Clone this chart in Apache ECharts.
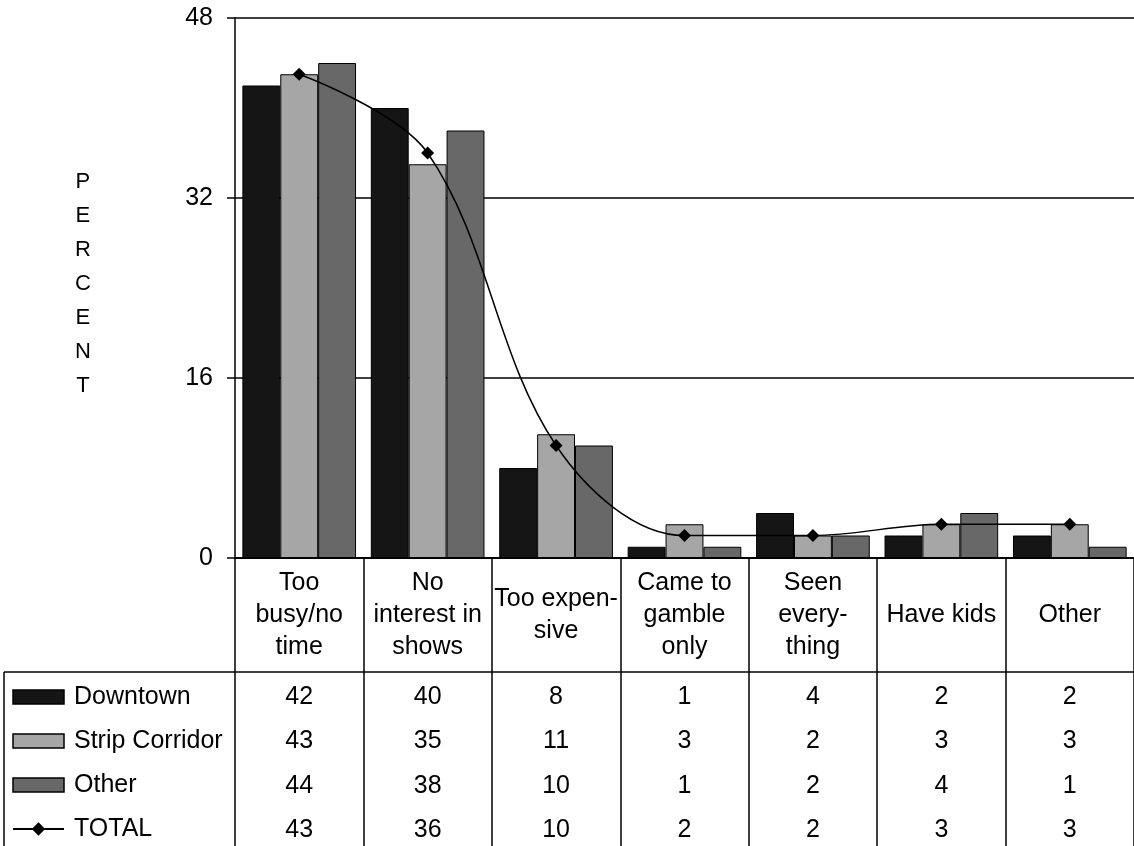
<!DOCTYPE html>
<html>
<head>
<meta charset="utf-8">
<script src="https://cdn.jsdelivr.net/npm/echarts@6/dist/echarts.min.js"></script>
<style>
  html, body { margin: 0; padding: 0; background: #fff; }
  #chart { width: 1134px; height: 846px; }
</style>
</head>
<body>
<div id="chart"></div>
<script>
// Reasons for not attending shows, by visitor area (percent)
const categories = ['Too\nbusy/no\ntime', 'No\ninterest in\nshows', 'Too expen-\nsive', 'Came to\ngamble\nonly', 'Seen\nevery-\nthing', 'Have kids', 'Other'];
const seriesNames = ['Downtown', 'Strip Corridor', 'Other', 'TOTAL'];
const downtown = [42, 40, 8, 1, 4, 2, 2];
const strip = [43, 35, 11, 3, 2, 3, 3];
const other = [44, 38, 10, 1, 2, 4, 1];
const total = [43, 36, 10, 2, 2, 3, 3];
const yMin = 0, yMax = 48, yStep = 16;
const axisTitle = 'PERCENT';

const FONT = '"Liberation Sans", Arial, sans-serif';
const FS = 25;
const barColors = ['#151515', '#a6a6a6', '#686868'];

// Data table rows under the plot, each drawn as an extra category axis
const tableRows = [downtown, strip, other, total];
const rowMargins = [139, 183, 228, 272];
const tableAxes = tableRows.map((vals, r) => ({
  type: 'category',
  gridIndex: 0,
  position: 'bottom',
  data: categories,
  axisLine: { show: false },
  axisTick: { show: false },
  splitLine: { show: false },
  axisLabel: {
    interval: 0,
    margin: rowMargins[r],
    verticalAlign: 'middle',
    color: '#000',
    fontFamily: FONT,
    fontSize: FS,
    formatter: (v, i) => String(vals[i])
  }
}));

const chart = echarts.init(document.getElementById('chart'), null, { renderer: 'canvas' });

const barSeries = [downtown, strip, other].map((vals, k) => ({
  name: seriesNames[k],
  type: 'bar',
  xAxisIndex: 0,
  yAxisIndex: 0,
  data: vals,
  barGap: '0%',
  barCategoryGap: '11.5%',
  itemStyle: { color: barColors[k], borderColor: '#000', borderWidth: 1 },
  emphasis: { disabled: true },
  z: 2
}));

chart.setOption({
  animation: false,
  backgroundColor: '#fff',
  textStyle: { fontFamily: FONT },
  grid: { left: 235, right: -9, top: 18, bottom: 288, containLabel: false },
  legend: {
    data: seriesNames.map((n, k) => (k < 3 ? { name: n, icon: 'rect' } : { name: n })),
    orient: 'vertical',
    left: 12,
    top: 682,
    padding: 0,
    itemWidth: 51,
    itemHeight: 14,
    itemGap: 14,
    selectedMode: false,
    itemStyle: { borderColor: '#000', borderWidth: 1.5 },
    textStyle: { color: '#000', fontFamily: FONT, fontSize: FS, lineHeight: 30, padding: [0, 0, 0, 5] }
  },
  xAxis: [{
    type: 'category',
    gridIndex: 0,
    position: 'bottom',
    data: categories,
    boundaryGap: true,
    axisLine: { show: true, lineStyle: { color: '#000', width: 2 } },
    axisTick: { show: true, interval: 0, length: 290, lineStyle: { color: '#000', width: 1.5 } },
    splitLine: { show: false },
    axisLabel: {
      interval: 0,
      margin: 57,
      verticalAlign: 'middle',
      color: '#000',
      fontFamily: FONT,
      fontSize: FS,
      lineHeight: 32,
      align: 'center'
    }
  }].concat(tableAxes),
  yAxis: {
    type: 'value',
    min: yMin,
    max: yMax,
    interval: yStep,
    axisLine: { show: true, lineStyle: { color: '#000', width: 1.5 } },
    axisTick: { show: true, length: 8, lineStyle: { color: '#000', width: 1.5 } },
    splitLine: { show: true, lineStyle: { color: '#000', width: 1.5 } },
    axisLabel: { color: '#000', fontFamily: FONT, fontSize: FS, margin: 22 }
  },
  series: barSeries.concat([{
    name: seriesNames[3],
    type: 'line',
    xAxisIndex: 0,
    yAxisIndex: 0,
    data: total,
    smooth: 0.35,
    symbol: 'diamond',
    symbolSize: 13,
    lineStyle: { color: '#000', width: 1.5 },
    itemStyle: { color: '#000' },
    emphasis: { disabled: true },
    z: 5
  }]),
  graphic: [
    {
      type: 'text',
      left: 83 - 8,
      top: 284 - 119,
      style: {
        text: axisTitle.split('').join('\n'),
        font: '22px ' + FONT,
        lineHeight: 34,
        fill: '#000',
        textAlign: 'center'
      }
    },
    {
      type: 'line',
      shape: { x1: 4, y1: 672, x2: 1134, y2: 672 },
      style: { stroke: '#000', lineWidth: 1.5 }
    },
    {
      type: 'line',
      shape: { x1: 4, y1: 672, x2: 4, y2: 846 },
      style: { stroke: '#000', lineWidth: 1.5 }
    }
  ]
});
</script>
</body>
</html>
